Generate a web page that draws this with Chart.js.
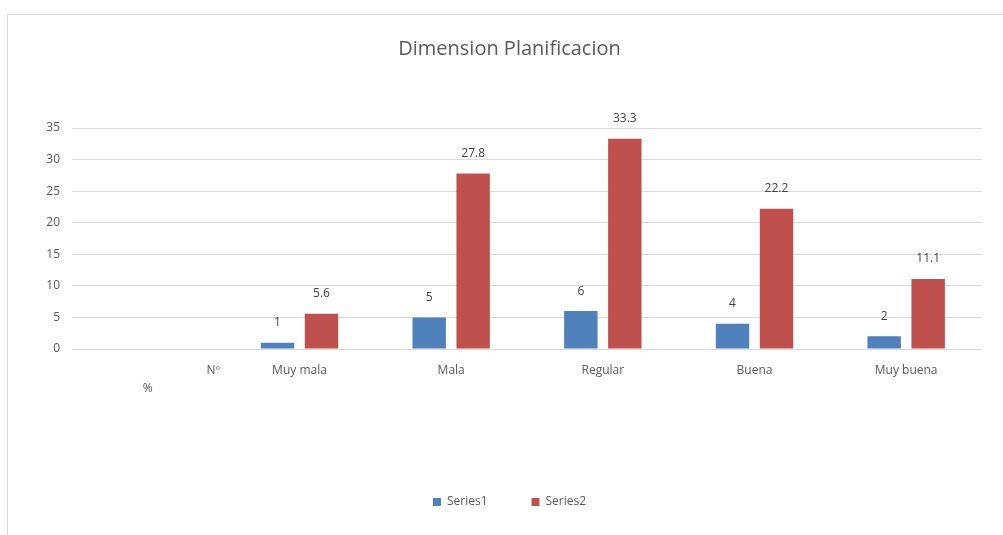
<!DOCTYPE html>
<html>
<head>
<meta charset="utf-8">
<script src="https://cdn.jsdelivr.net/npm/chart.js@4.4.1/dist/chart.umd.min.js"></script>
<style>
  html, body { margin: 0; padding: 0; background: #fff; }
  #wrap { position: absolute; left: 0; top: 0; width: 1003px; height: 535px; }
  #frame { position: absolute; left: 7px; top: 14px; right: 0; bottom: 0;
           border-top: 1px solid #d9d9d9; border-left: 1px solid #d9d9d9; pointer-events: none; }
</style>
</head>
<body>
<div id="wrap"><canvas id="chart"></canvas></div>
<div id="frame"></div>
<script>
// valores
const categories = ['', 'Muy mala', 'Mala', 'Regular', 'Buena', 'Muy buena'];
const series1 = [null, 1, 5, 6, 4, 2];
const series2 = [null, 5.6, 27.8, 33.3, 22.2, 11.1];
const yTicks = [0, 5, 10, 15, 20, 25, 30, 35];

(function () {
  const FONT = '"Open Sans", "Liberation Sans", sans-serif';
  const TEXT = '#595959';

  // primera categoria: "Nº" desplazado a la derecha y "%" debajo
  function firstLabel() {
    const c = document.createElement('canvas').getContext('2d');
    c.font = '12px ' + FONT;
    const sp = c.measureText(' ').width || 3;
    const n = Math.round(130 / sp);
    return [' '.repeat(n) + 'Nº', '%'];
  }
  const labels = categories.map((c, i) => i === 0 ? firstLabel() : c);

  const valueLabels = {
    id: 'valueLabels',
    afterDatasetsDraw(chart) {
      const ctx = chart.ctx;
      ctx.save();
      ctx.font = '12px ' + FONT;
      ctx.fillStyle = '#404040';
      ctx.textAlign = 'center';
      ctx.textBaseline = 'middle';
      chart.data.datasets.forEach((ds, di) => {
        chart.getDatasetMeta(di).data.forEach((bar, i) => {
          const v = ds.data[i];
          if (v == null) return;
          ctx.fillText(String(v), bar.x, bar.y - 20);
        });
      });
      ctx.restore();
    }
  };

  new Chart(document.getElementById('chart').getContext('2d'), {
    type: 'bar',
    data: {
      labels,
      datasets: [
        { label: 'Series1', data: series1, backgroundColor: '#4f81bd',
          categoryPercentage: 0.58, barPercentage: 0.76 },
        { label: 'Series2', data: series2, backgroundColor: '#c0504d',
          categoryPercentage: 0.58, barPercentage: 0.76 }
      ]
    },
    options: {
      responsive: true, maintainAspectRatio: false, animation: false,
      layout: { padding: { top: 14, left: 37, right: 21, bottom: 17 } },
      plugins: {
        title: { display: true, text: 'Dimension Planificacion', color: TEXT,
          font: { family: FONT, size: 20, weight: 'normal' }, padding: { top: 23, bottom: 67 } },
        legend: { position: 'bottom',
          labels: { color: TEXT, boxWidth: 8, boxHeight: 8, padding: 44,
            font: { family: FONT, size: 12 } } },
        tooltip: { enabled: false }
      },
      scales: {
        x: {
          grid: { display: false, drawTicks: false }, border: { display: false },
          ticks: { color: TEXT, font: { family: FONT, size: 12, lineHeight: 1.5 },
            padding: 13, maxRotation: 0, autoSkip: false },
          afterFit: s => { s.height = 103; }
        },
        y: {
          min: 0, max: 35,
          afterBuildTicks: s => { s.ticks = yTicks.map(v => ({ value: v })); },
          grid: { color: '#d9d9d9', drawTicks: false }, border: { display: false },
          ticks: { color: TEXT, font: { family: FONT, size: 12 }, padding: 12 },
          afterFit: s => { s.width = 35; }
        }
      }
    },
    plugins: [valueLabels]
  });
})();
</script>
</body>
</html>
